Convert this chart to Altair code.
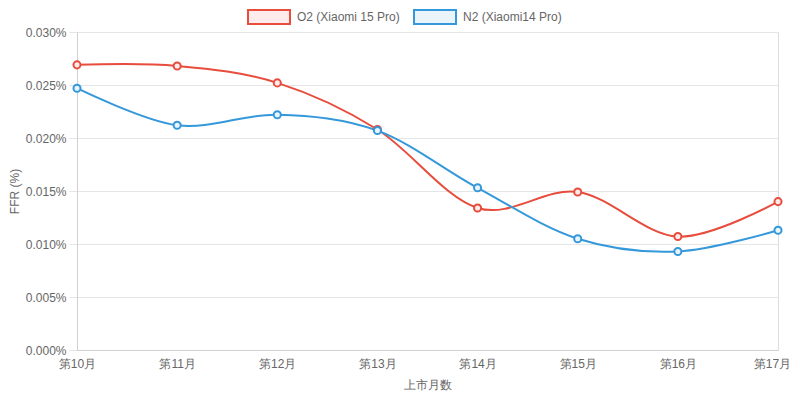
import altair as alt
import pandas as pd

months = ["第10月", "第11月", "第12月", "第13月", "第14月", "第15月", "第16月", "第17月"]
o2_values = [0.0269, 0.0268, 0.0252, 0.0208, 0.0134, 0.0149, 0.0107, 0.0140]
n2_values = [0.0247, 0.0212, 0.0222, 0.0207, 0.0153, 0.0105, 0.0093, 0.0113]
series_names = ["O2 (Xiaomi 15 Pro)", "N2 (Xiaomi14 Pro)"]
stroke_colors = ["#e74c3c", "#3498db"]
fill_colors = ["#fdeceb", "#eaf4fb"]

rows = []
for m, v in zip(months, o2_values):
    rows.append({"month": m, "value": v, "series": series_names[0]})
for m, v in zip(months, n2_values):
    rows.append({"month": m, "value": v, "series": series_names[1]})
df = pd.DataFrame(rows)

font = "Liberation Sans"

x = alt.X("month:N", sort=months, scale=alt.Scale(type="point", padding=0),
          axis=alt.Axis(title="上市月数", labelAngle=0, ticks=False, grid=False,
                        labelPadding=8, titlePadding=10, domainColor="#d0d0d0",
                        labelOffset={"condition": {"test": "datum.value === '第17月'", "value": -6}, "value": 0},
                        labelColor="#666", titleColor="#666", labelFontSize=12,
                        titleFontSize=12, titleFontWeight="normal", labelFont=font, titleFont=font))
y = alt.Y("value:Q", scale=alt.Scale(domain=[0, 0.03], nice=False),
          axis=alt.Axis(title="FFR (%)", values=[0, 0.005, 0.01, 0.015, 0.02, 0.025, 0.03],
                        labelExpr="format(datum.value, '.3f') + '%'",
                        tickSize=8, tickColor="#e5e5e5", gridColor="#e5e5e5", domainColor="#d0d0d0",
                        labelPadding=3, titlePadding=4, labelColor="#666", titleColor="#666",
                        labelFontSize=12, titleFontSize=12, titleFontWeight="normal",
                        labelFont=font, titleFont=font))

legend = alt.Legend(title=None, orient="none", direction="horizontal",
                    legendX=170, legendY=-23,
                    symbolType="M-1,-1L5,-1L5,1L-1,1Z", symbolSize=196,
                    symbolStrokeWidth=2, labelOffset=34, columnPadding=10,
                    labelFontSize=12, labelColor="#666", labelFont=font)

stroke = alt.Stroke("series:N", scale=alt.Scale(domain=series_names, range=stroke_colors), legend=legend)
fill = alt.Fill("series:N", scale=alt.Scale(domain=series_names, range=fill_colors), legend=legend)

lines = alt.Chart(df).mark_line(interpolate="cardinal", tension=0, strokeWidth=2).encode(
    x=x, y=y, stroke=stroke, detail="series:N")
points = alt.Chart(df).mark_point(shape="circle", size=50, strokeWidth=2, opacity=1, filled=False).encode(
    x=x, y=y, stroke=stroke, fill=fill)

chart = alt.layer(lines, points).properties(
    width=701, height=318,
    autosize=alt.AutoSizeParams(type="none"),
    padding={"left": 69, "top": 24, "right": 14, "bottom": 43},
).configure_view(stroke="transparent").configure(background="white")

chart.save("out.html", embed_options={"renderer": "svg", "actions": False})
